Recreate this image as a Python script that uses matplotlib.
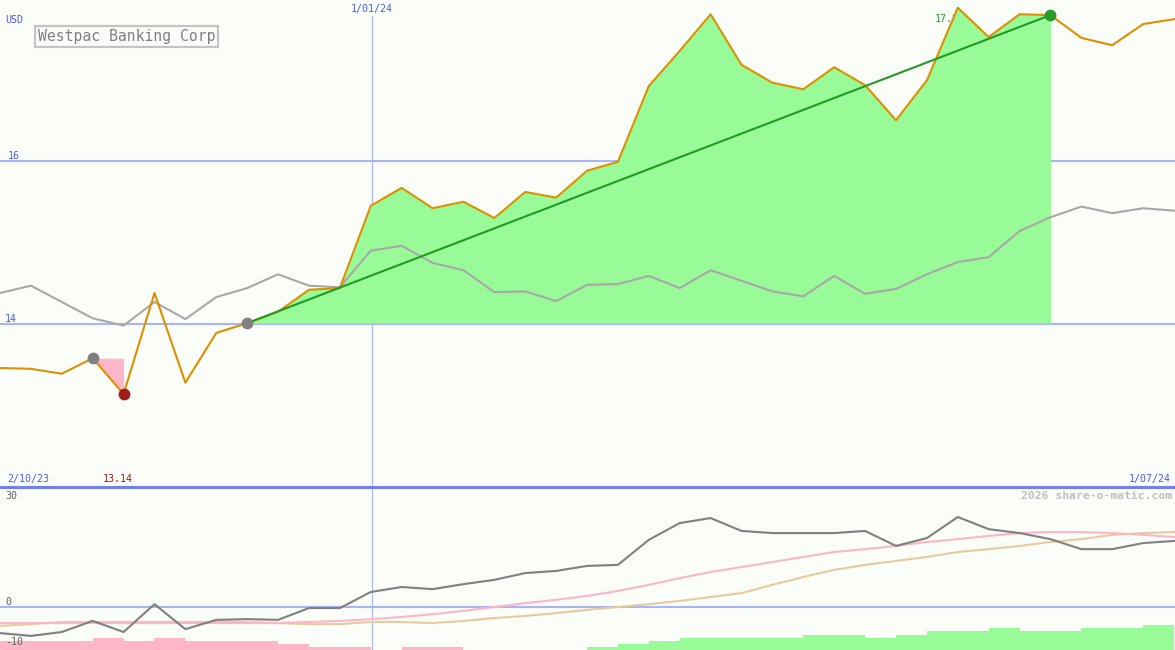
import matplotlib
matplotlib.use("Agg")
import matplotlib.pyplot as plt
from matplotlib.lines import Line2D

# ---------------- data ----------------
weeks = list(range(39))  # weekly points, 2/10/23 .. 1/07/24
price = [13.46, 13.45, 13.39, 13.58, 13.14, 14.38, 13.28, 13.89, 14.01, 14.15,
         14.42, 14.44, 15.45, 15.67, 15.42, 15.50, 15.30, 15.62, 15.55, 15.88,
         15.99, 16.92, 17.35, 17.80, 17.18, 16.96, 16.88, 17.15, 16.93, 16.50,
         16.99, 17.88, 17.52, 17.80, 17.79, 17.51, 17.42, 17.68, 17.74]
index_line = [14.38, 14.47, 14.27, 14.07, 13.98, 14.27, 14.06, 14.33, 14.44, 14.61,
              14.47, 14.45, 14.90, 14.96, 14.75, 14.66, 14.39, 14.40, 14.28, 14.48,
              14.49, 14.59, 14.44, 14.66, 14.53, 14.40, 14.34, 14.59, 14.37, 14.43,
              14.61, 14.76, 14.82, 15.14, 15.31, 15.44, 15.36, 15.42, 15.39]
momentum = [-7.3, -8.1, -7.0, -3.9, -7.0, 0.8, -6.2, -3.6, -3.4, -3.6,
            -0.3, -0.3, 4.2, 5.6, 5.0, 6.4, 7.6, 9.5, 10.1, 11.5,
            11.8, 18.8, 23.5, 24.9, 21.3, 20.7, 20.7, 20.7, 21.3, 17.1,
            19.3, 25.2, 21.8, 20.7, 19.0, 16.2, 16.2, 17.9, 18.5]
ma_fast = [-4.5, -4.5, -4.5, -4.5, -4.5, -4.5, -4.5, -4.5, -4.5, -4.5,
           -4.2, -3.9, -3.4, -2.8, -2.0, -1.1, 0.0, 1.1, 2.0, 3.1,
           4.5, 6.2, 8.1, 9.8, 11.2, 12.6, 14.0, 15.4, 16.2, 17.1,
           18.2, 19.0, 19.9, 20.7, 21.0, 21.0, 20.7, 20.2, 19.6]
ma_slow = [-5.3, -4.8, -4.2, -4.2, -4.2, -4.2, -4.2, -4.2, -4.2, -4.5,
           -4.8, -4.8, -4.2, -4.2, -4.5, -3.9, -3.1, -2.5, -1.7, -0.8,
           0.0, 0.8, 1.7, 2.8, 3.9, 6.2, 8.4, 10.4, 11.8, 12.9,
           14.0, 15.4, 16.2, 17.1, 18.2, 19.0, 20.2, 20.7, 21.0]
hist = [-2.5, -2.5, -2.5, -3.4, -2.5, -3.4, -2.5, -2.5, -2.5, -1.7,
        -0.8, -0.8, 0.0, -0.8, -0.8, 0.0, 0.0, 0.0, 0.0, 0.8,
        1.7, 2.5, 3.4, 3.4, 3.4, 3.4, 4.2, 4.2, 3.4, 4.2,
        5.3, 5.3, 6.2, 5.3, 5.3, 6.2, 6.2, 7.0]
gain_start, gain_end = 8, 34
loss_start, loss_end = 3, 4
jan_week = 12.03
title = "Westpac Banking Corp"
low_label = "13.14"
high_label = "17.88"

# ---------------- style ----------------
W, H = 1175, 650
BG = "#fbfdf9"
GRID = "#a8b4f4"
BLUE_TXT = "#4a5bee"
ORANGE = "#dd9000"
MONO = "DejaVu Sans Mono"

fig = plt.figure(figsize=(W / 100, H / 100), dpi=100, facecolor=BG)
split = 487
ax = fig.add_axes([0, (H - split) / H, 1, split / H])
ax2 = fig.add_axes([0, 0, 1, (H - split) / H])
for a in (ax, ax2):
    a.set_facecolor(BG)
    a.set_axis_off()
    a.set_xlim(0, 38.03)

ax.set_ylim(12.0, 17.975)
ax2.set_ylim(-12.04, 33.6)

# grid
for lvl in (14, 16):
    ax.axhline(lvl, color=GRID, lw=1.5, zorder=1)
ax.axvline(jan_week, ymax=1 - 16 / split, color=GRID, lw=0.8, zorder=1)
ax2.axvline(jan_week, color=GRID, lw=0.8, zorder=1)
ax2.axhline(0, color=GRID, lw=1.5, zorder=1)

# label under fill
ax.text(30.24, 17.745, high_label, color="#2a9a2a", fontsize=7.2, family=MONO,
        ha="left", va="center", zorder=2)

# fills
xs_g = weeks[gain_start:gain_end + 1]
ax.fill_between(xs_g, price[gain_start:gain_end + 1], price[gain_start],
                color="#98fb98", lw=0, zorder=3)
xs_l = weeks[loss_start:loss_end + 1]
ax.fill_between(xs_l, price[loss_start:loss_end + 1], price[loss_start],
                color="#ffb6c8", lw=0, zorder=3)

# lines
ax.plot(weeks, index_line, color="#a8a8a8", lw=1.5, zorder=4)
ax.plot(weeks, price, color=ORANGE, lw=1.5, zorder=5)
ax.plot([gain_start, gain_end], [price[gain_start], price[gain_end]],
        color="#229922", lw=1.5, zorder=6)

# markers
ms = 8.5
ax.plot([loss_start, gain_start], [price[loss_start], price[gain_start]], "o",
        color="#808080", ms=ms, mec="none", zorder=7)
ax.plot([loss_end], [price[loss_end]], "o", color="#a01c1c", ms=ms, mec="none", zorder=7)
ax.plot([gain_end], [price[gain_end]], "o", color="#2a9a2a", ms=ms, mec="none", zorder=7)

# lower panel bars (drawn from the bottom)
ax3 = ax2.twinx()
ax3.set_axis_off()
ax3.set_ylim(0, 45.66)
ax3.set_xlim(0, 38.03)
bar_colors = ["#ffb6c8" if v < 0 else "#98fb98" for v in hist]
ax3.bar(weeks[:-1], [abs(v) for v in hist], width=1.0, align="edge",
        color=bar_colors, lw=0, zorder=1)
ax2.set_zorder(ax3.get_zorder() + 1)
ax2.patch.set_visible(False)

ax2.plot(weeks, ma_slow, color="#e6cc9c", lw=1.5, zorder=3)
ax2.plot(weeks, ma_fast, color="#ffb4c8", lw=1.5, zorder=4)
ax2.plot(weeks, momentum, color="#808080", lw=1.5, zorder=5)

# separator
fig.add_artist(Line2D([0, 1], [(H - split) / H] * 2, color="#7080ee", lw=2.2,
                      transform=fig.transFigure))


def ftext(x, y, s, **kw):
    kw.setdefault("family", MONO)
    kw.setdefault("fontsize", 7.2)
    fig.text(x / W, 1 - y / H, s, va="center", **kw)


ftext(5, 20, "USD", color=BLUE_TXT)
ftext(8, 156, "16", color=BLUE_TXT)
ftext(5, 319, "14", color=BLUE_TXT)
ftext(372, 9, "1/01/24", color=BLUE_TXT, ha="center")
ftext(7, 479, "2/10/23", color=BLUE_TXT)
ftext(103, 479, low_label, color="#a01c1c")
ftext(1171, 479, "1/07/24", color=BLUE_TXT, ha="right")
ftext(5, 496, "30", color="#606060")
ftext(5, 602, "0", color="#606060")
ftext(5, 642, "-10", color="#606060")
ftext(1172, 496, "2026 share-o-matic.com", color="#c0c0c0", ha="right",
      fontsize=8.2, fontweight="bold")
ftext(38, 36.5, title, color="#808080", fontsize=10.6,
      bbox=dict(boxstyle="square,pad=0.2", fc=BG, ec="#c4c4c4", lw=1.6))

fig.savefig("out.png", dpi=100, facecolor=BG)
